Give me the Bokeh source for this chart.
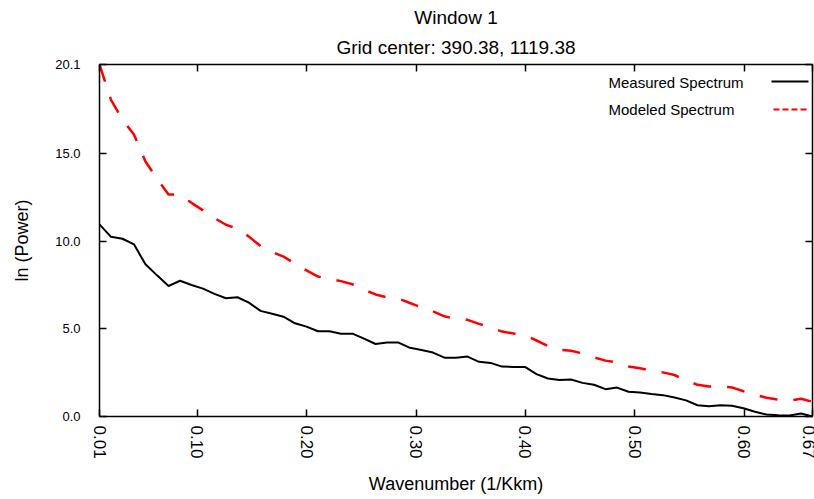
from bokeh.plotting import figure
from bokeh.models import (Range1d, LinearAxis, FixedTicker, CustomJSTickFormatter,
                          NumeralTickFormatter, Title, Label, Arrow, ColumnDataSource)
from bokeh.embed import file_html
from bokeh.resources import INLINE

# ---------------- data ----------------
wavenumber = [0.0107, 0.0212, 0.0317, 0.0422, 0.0527, 0.0633, 0.0738, 0.0843, 0.0948, 0.1053,
              0.1158, 0.1263, 0.1368, 0.1473, 0.1579, 0.1684, 0.1789, 0.1894, 0.1999, 0.2104,
              0.2209, 0.2314, 0.2419, 0.2525, 0.2630, 0.2735, 0.2840, 0.2945, 0.3050, 0.3155,
              0.3260, 0.3365, 0.3471, 0.3576, 0.3681, 0.3786, 0.3891, 0.3996, 0.4101, 0.4206,
              0.4311, 0.4417, 0.4522, 0.4627, 0.4732, 0.4837, 0.4942, 0.5047, 0.5152, 0.5257,
              0.5363, 0.5468, 0.5573, 0.5678, 0.5783, 0.5888, 0.5993, 0.6098, 0.6203, 0.6309,
              0.6414, 0.6519, 0.6624]

measured = [10.97, 10.26, 10.15, 9.83, 8.69, 8.06, 7.45, 7.75, 7.51, 7.30,
            7.00, 6.75, 6.81, 6.50, 6.03, 5.87, 5.70, 5.32, 5.13, 4.87,
            4.87, 4.73, 4.73, 4.45, 4.14, 4.22, 4.22, 3.92, 3.80, 3.65,
            3.36, 3.36, 3.42, 3.12, 3.06, 2.85, 2.83, 2.83, 2.42, 2.17,
            2.08, 2.11, 1.92, 1.81, 1.56, 1.65, 1.41, 1.37, 1.29, 1.22,
            1.09, 0.92, 0.64, 0.58, 0.64, 0.61, 0.47, 0.27, 0.11, 0.07,
            0.06, 0.17, 0.0]

modeled = [20.1, 18.08, 16.95, 16.1, 14.56, 13.58, 12.68, 12.68, 12.2, 11.77,
           11.33, 10.95, 10.72, 10.27, 9.73, 9.39, 9.13, 8.73, 8.34, 7.99,
           7.86, 7.73, 7.55, 7.24, 6.97, 6.80, 6.73, 6.48, 6.23, 6.00,
           5.72, 5.56, 5.52, 5.29, 5.09, 4.85, 4.74, 4.65, 4.34, 4.03,
           3.81, 3.75, 3.60, 3.38, 3.19, 3.10, 2.86, 2.76, 2.61, 2.52,
           2.37, 2.06, 1.81, 1.71, 1.71, 1.66, 1.44, 1.24, 1.07, 0.97,
           0.91, 1.01, 0.84]

x_ticks = [0.0107, 0.1, 0.2, 0.3, 0.4, 0.5, 0.6, 0.6624]
x_tick_labels = ["0.01", "0.10", "0.20", "0.30", "0.40", "0.50", "0.60", "0.67"]
y_ticks = [0.0, 5.0, 10.0, 15.0, 20.1]

title_line1 = "Window 1"
title_line2 = "Grid center: 390.38, 1119.38"
x_label = "Wavenumber (1/Kkm)"
y_label = "ln (Power)"
series_names = ["Measured Spectrum", "Modeled Spectrum"]

# ---------------- figure ----------------
FONT = "Liberation Sans"

p = figure(width=814, height=499, output_backend="svg", toolbar_location=None,
           x_range=Range1d(x_ticks[0], x_ticks[-1]), y_range=Range1d(y_ticks[0], y_ticks[-1]),
           title_location=None,
           min_border_left=99, min_border_right=2, min_border_top=64, min_border_bottom=83)
p.grid.visible = False
p.outline_line_color = None
p.background_fill_color = "white"
p.border_fill_color = "white"

x_fmt = CustomJSTickFormatter(args=dict(tvals=x_ticks, tlabs=x_tick_labels), code="""
    let best = 0, d = Infinity;
    for (let i = 0; i < tvals.length; i++) {
        const dd = Math.abs(tvals[i] - tick);
        if (dd < d) { d = dd; best = i; }
    }
    return tlabs[best];
""")

def style_axis(ax):
    ax.axis_line_color = "black"
    ax.axis_line_width = 1.5
    ax.major_tick_line_color = "black"
    ax.major_tick_line_width = 1.5
    ax.major_tick_in = 7
    ax.major_tick_out = 0
    ax.minor_tick_in = 0
    ax.minor_tick_out = 0
    ax.major_label_text_font = FONT
    ax.major_label_text_color = "black"
    ax.axis_label_text_font = FONT
    ax.axis_label_text_font_style = "normal"
    ax.axis_label_text_color = "black"

# bottom axis
xa = p.xaxis[0]
xa.ticker = FixedTicker(ticks=x_ticks)
xa.formatter = x_fmt
xa.major_label_orientation = "vertical"
xa.major_label_text_font_size = "17px"
xa.major_label_standoff = 9
xa.axis_label = x_label
xa.axis_label_text_font_size = "18px"
xa.axis_label_standoff = 12
style_axis(xa)

# left axis
ya = p.yaxis[0]
ya.ticker = FixedTicker(ticks=y_ticks)
ya.formatter = NumeralTickFormatter(format="0.0")
ya.major_label_text_font_size = "13px"
ya.major_label_standoff = 19
ya.axis_label = y_label
ya.axis_label_text_font_size = "18px"
ya.axis_label_standoff = 20
style_axis(ya)

# mirrored top / right axes (ticks only)
blank = "return ''"
top = LinearAxis(ticker=FixedTicker(ticks=x_ticks),
                 formatter=CustomJSTickFormatter(code=blank), major_label_standoff=0)
style_axis(top)
top.major_label_text_font_size = "0px"
p.add_layout(top, "above")
right = LinearAxis(ticker=FixedTicker(ticks=y_ticks),
                   formatter=CustomJSTickFormatter(code=blank), major_label_standoff=0)
style_axis(right)
right.major_label_text_font_size = "0px"
p.add_layout(right, "right")

# two centred title lines (second line nearest the frame)
p.add_layout(Title(text=title_line2, align="center", text_font=FONT, text_font_size="19px",
                   text_font_style="normal", text_color="black", standoff=14), "above")
p.add_layout(Title(text=title_line1, align="center", text_font=FONT, text_font_size="19px",
                   text_font_style="normal", text_color="black", standoff=0), "above")

# ---------------- lines ----------------
src = ColumnDataSource(dict(x=wavenumber, measured=measured, modeled=modeled))
p.line("x", "measured", source=src, line_color="black", line_width=2)
p.line("x", "modeled", source=src, line_color="red", line_width=2.5, line_dash="18 16")

# ---------------- legend (text left, sample right, gnuplot style) ----------------
leg_y = [334, 307]
leg_text_x = 509
leg_line_x = [672, 709]
p.add_layout(Label(x=leg_text_x, y=leg_y[0], x_units="screen", y_units="screen",
                   text=series_names[0], text_font=FONT, text_font_size="15px",
                   text_baseline="middle", text_color="black"))
p.add_layout(Label(x=leg_text_x, y=leg_y[1], x_units="screen", y_units="screen",
                   text=series_names[1], text_font=FONT, text_font_size="15px",
                   text_baseline="middle", text_color="black"))
p.add_layout(Arrow(x_start=leg_line_x[0], y_start=leg_y[0] + 1, x_end=leg_line_x[1],
                   y_end=leg_y[0] + 1, start_units="screen", end_units="screen", end=None,
                   line_color="black", line_width=2))
p.add_layout(Arrow(x_start=leg_line_x[0] + 2, y_start=leg_y[1], x_end=leg_line_x[1] - 1,
                   y_end=leg_y[1], start_units="screen", end_units="screen", end=None,
                   line_color="red", line_width=2, line_dash="6 3"))

open("out.html", "w").write(file_html(p, INLINE))
